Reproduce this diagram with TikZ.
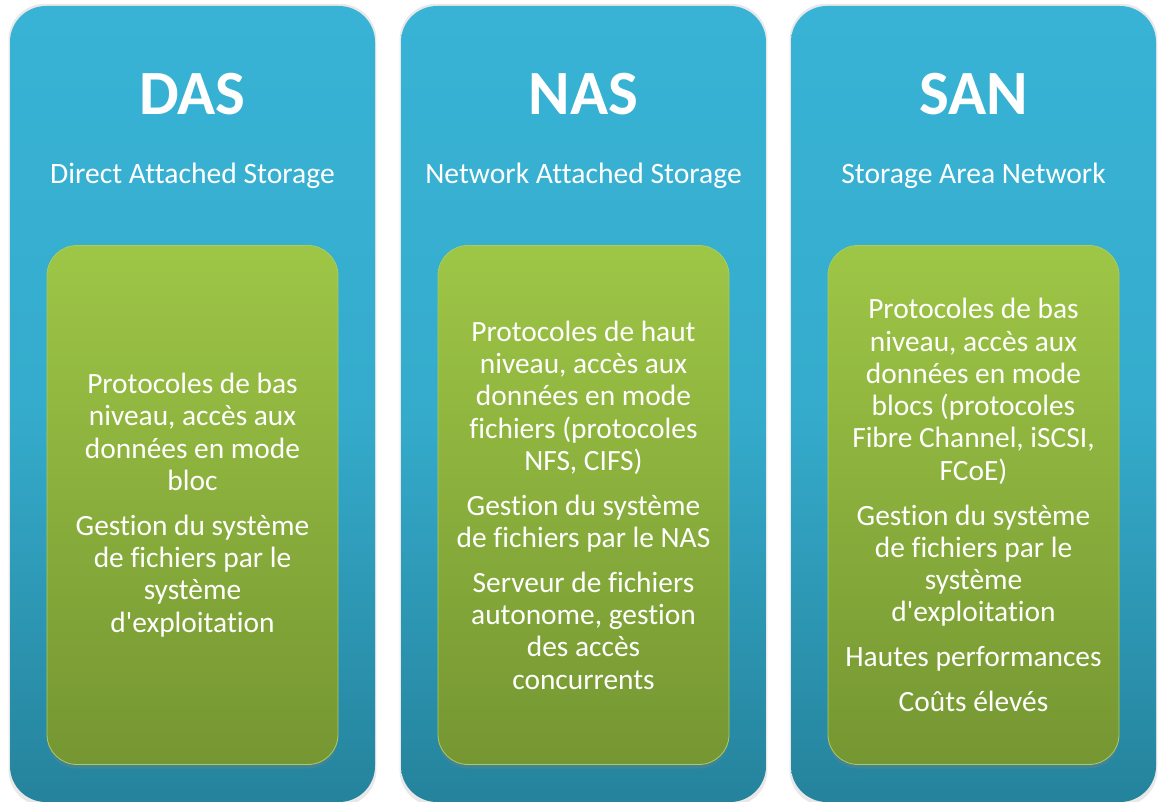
\documentclass[tikz,border=0pt]{standalone}
\usepackage{fontspec}
\newfontfamily\cf{Carlito}[Ligatures={NoCommon,NoContextual}]
\usetikzlibrary{shadows}
\definecolor{blueTop}{RGB}{56,179,213}
\definecolor{blueBot}{RGB}{37,131,156}
\definecolor{greenTop}{RGB}{158,198,70}
\definecolor{greenBot}{RGB}{117,150,50}
\definecolor{greenEdge}{RGB}{170,205,95}
\tikzset{
  panel/.style={rectangle, rounded corners=36pt, minimum width=365pt, minimum height=796pt,
    inner sep=0pt, top color=blueTop, bottom color=blueBot, middle color=blueTop!85!blueBot,
    drop shadow={opacity=0.18, shadow xshift=0pt, shadow yshift=-1pt, shadow scale=1.008}},
  inbox/.style={rectangle, rounded corners=30pt, minimum width=291pt, minimum height=519pt,
    inner sep=0pt, top color=greenTop, bottom color=greenBot, draw=greenEdge, line width=0.8pt,
    drop shadow={opacity=0.3, shadow xshift=0pt, shadow yshift=-4pt},
    text=white, align=center, font=\cf\fontsize{29.4}{32.3}\selectfont},
  ttl/.style={anchor=base, text=white, font=\cf\bfseries\fontsize{63}{70}\selectfont, inner sep=0pt},
  sub/.style={anchor=base, text=white, font=\cf\fontsize{29.6}{32}\selectfont, inner sep=0pt}
}
\begin{document}
\begin{tikzpicture}[x=1pt,y=1pt]
\useasboundingbox (0,0) rectangle (1165,-802);
% panels
\node[panel] (pdas) at (192.5,-404) {};
\node[panel] (pnas) at (583.5,-404) {};
\node[panel] (psan) at (973.5,-404) {};
% titles
\node[ttl] (tdas) at (192.5,-115) {DAS};
\node[ttl] (tnas) at (583.5,-115) {NAS};
\node[ttl] (tsan) at (973.5,-115) {SAN};
\node[sub] (sdas) at (192.5,-184) {Direct Attached Storage};
\node[sub] (snas) at (583.5,-184) {Network Attached Storage};
\node[sub] (ssan) at (973.5,-184) {Storage Area Network};
% inner boxes
\node[inbox] (bdas) at (192.5,-505) {Protocoles de bas\\niveau, accès aux\\données en mode\\bloc\\[12.5pt]Gestion du système\\de fichiers par le\\système\\d'exploitation};
\node[inbox] (bnas) at (583.5,-505) {Protocoles de haut\\niveau, accès aux\\données en mode\\fichiers (protocoles\\NFS, CIFS)\\[12.5pt]Gestion du système\\de fichiers par le NAS\\[12.5pt]Serveur de fichiers\\autonome, gestion\\des accès\\concurrents};
\node[inbox] (bsan) at (973.5,-505) {Protocoles de bas\\niveau, accès aux\\données en mode\\blocs (protocoles\\Fibre Channel, iSCSI,\\FCoE)\\[12.5pt]Gestion du système\\de fichiers par le\\système\\d'exploitation\\[12.5pt]Hautes performances\\[12.5pt]Coûts élevés};
\end{tikzpicture}
\end{document}
